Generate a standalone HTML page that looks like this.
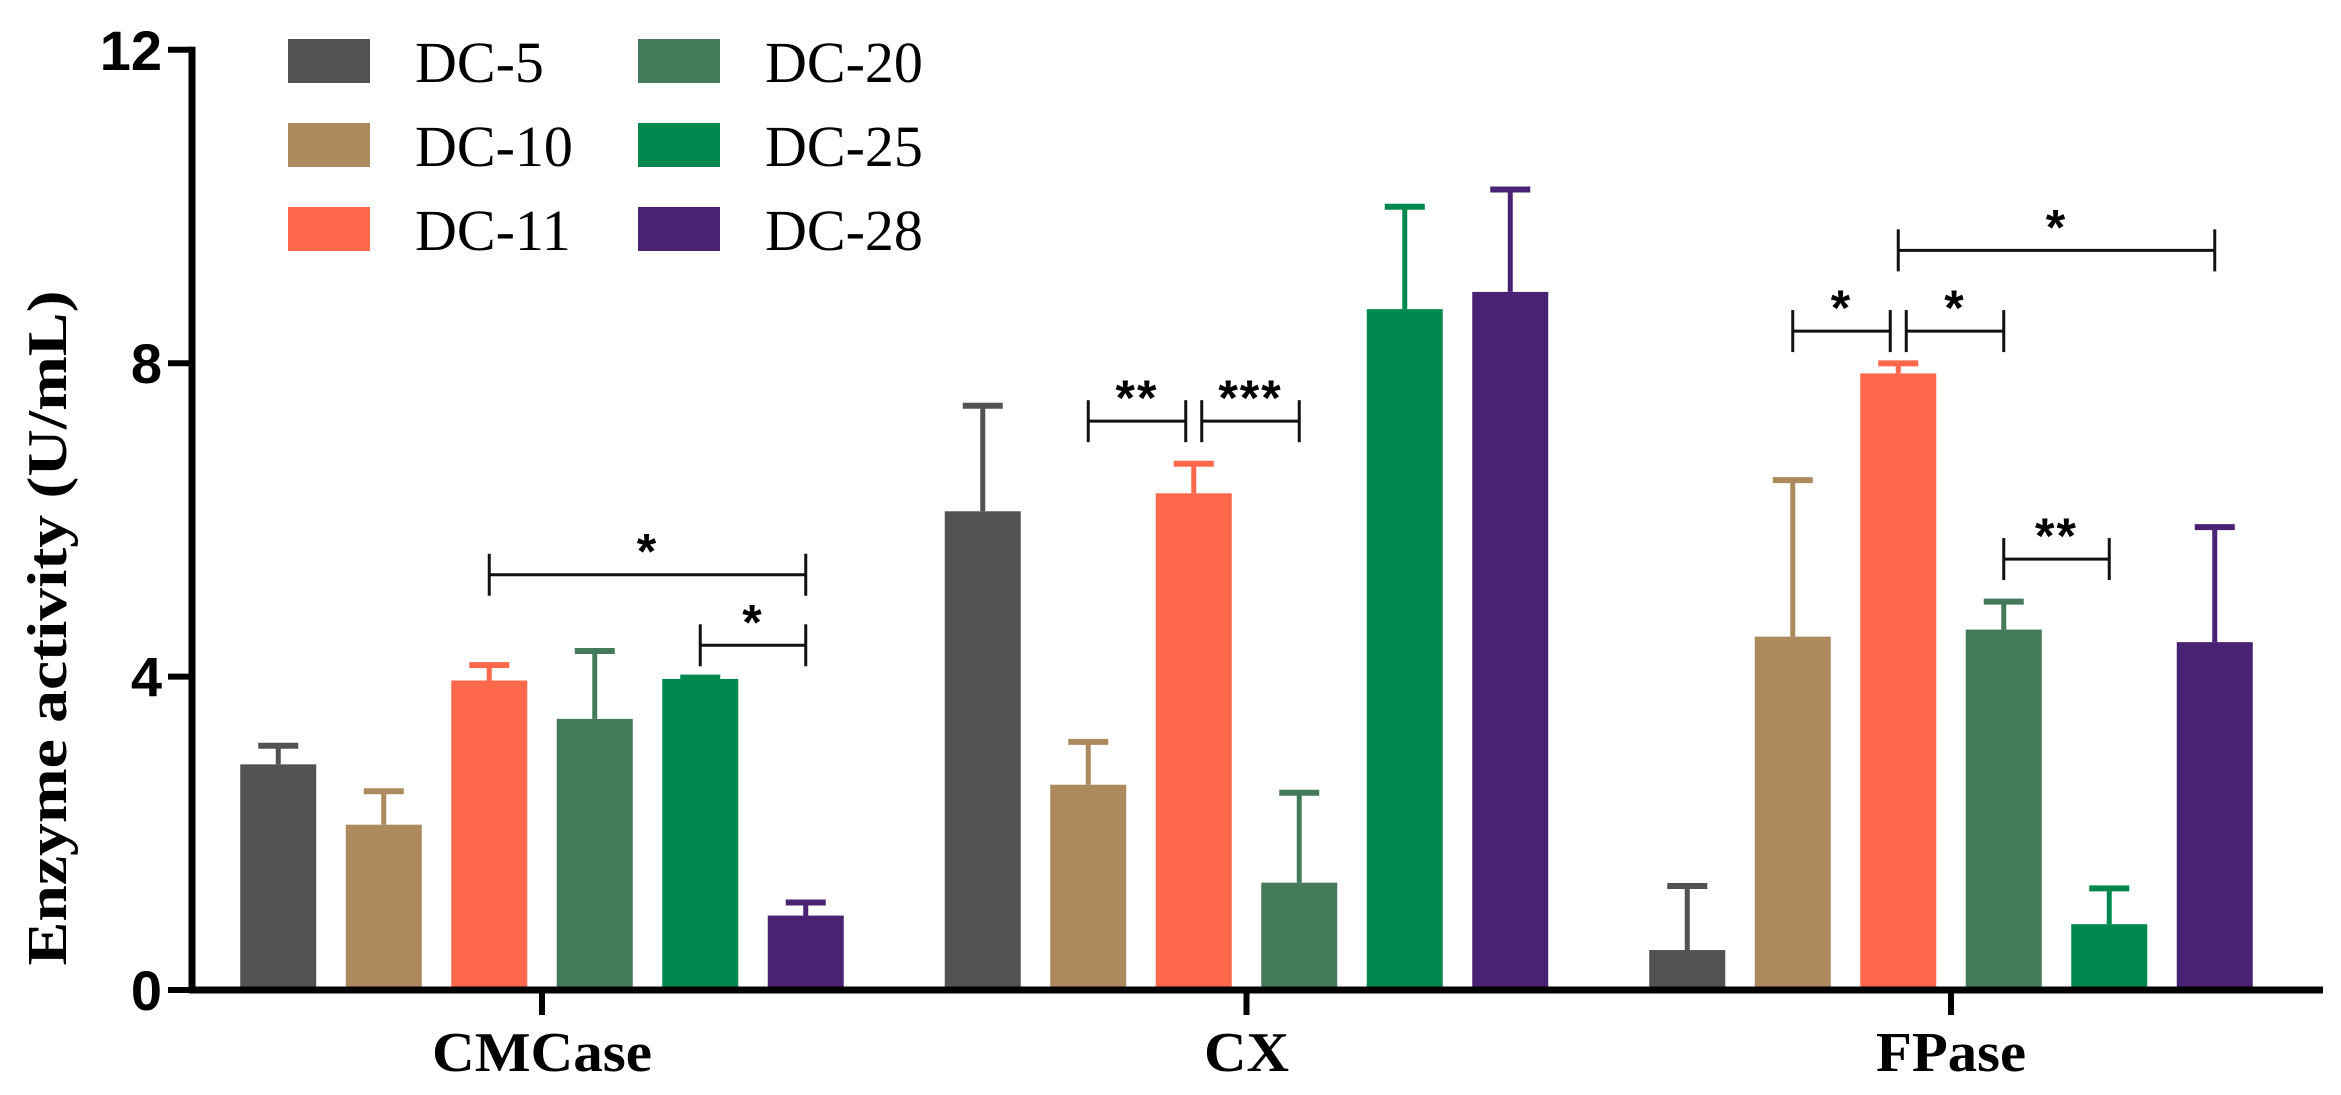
<!DOCTYPE html>
<html><head><meta charset="utf-8"><style>
html,body{margin:0;padding:0;background:#fff;}
svg{display:block;}
</style></head><body>
<svg id="chart" width="2341" height="1095" viewBox="0 0 2341 1095" xmlns="http://www.w3.org/2000/svg">
<rect width="2341" height="1095" fill="#fff"/>
<g id="bars"></g>
<g id="axes"></g>
<g id="brackets"></g>
<g id="legend"></g>
</svg>
<script>
const categories = ["CMCase","CX","FPase"];
const seriesNames = ["DC-5","DC-10","DC-11","DC-20","DC-25","DC-28"];
const colors = ["#525252","#AD8A5E","#FF684B","#437A5A","#00884F","#492274"];
const dc5  = [2.88, 6.11, 0.51];
const dc10 = [2.11, 2.62, 4.51];
const dc11 = [3.95, 6.34, 7.87];
const dc20 = [3.46, 1.37, 4.60];
const dc25 = [3.97, 8.69, 0.84];
const dc28 = [0.95, 8.91, 4.44];
const err5  = [0.25, 1.36, 0.83];
const err10 = [0.44, 0.56, 2.01];
const err11 = [0.21, 0.39, 0.14];
const err20 = [0.88, 1.16, 0.37];
const err25 = [0.03, 1.32, 0.47];
const err28 = [0.18, 1.32, 1.48];
const yTicks = [0, 4, 8, 12];
// significance brackets: [category, fromSeries, toSeries, value level, label]
const sigCat   = [0, 0, 1, 1, 2, 2, 2, 2];
const sigFrom  = [2, 4, 1, 2, 1, 2, 2, 3];
const sigTo    = [5, 5, 2, 3, 2, 3, 5, 4];
const sigLevel = [5.3, 4.4, 7.26, 7.26, 8.41, 8.41, 9.44, 5.5];
const sigLabel = ["*","*","**","***","*","*","*","**"];

const values = [dc5,dc10,dc11,dc20,dc25,dc28];
const errs = [err5,err10,err11,err20,err25,err28];
const NS="http://www.w3.org/2000/svg";
function mk(tag, attrs, parent){const e=document.createElementNS(NS,tag);for(const k in attrs)e.setAttribute(k,attrs[k]);parent.appendChild(e);return e;}
const y0=990, unit=78.35;
function yScale(v){return y0 - v*unit;}
const groupStart=542, groupStep=704.5, barStep=105.5, barW=76;
function xCenter(c,s){return groupStart + c*groupStep + (s-2.5)*barStep;}

const gb=document.getElementById('bars');
for(let s=0;s<seriesNames.length;s++){
  for(let c=0;c<categories.length;c++){
    const v=values[s][c], e=errs[s][c], xc=xCenter(c,s);
    const r=mk('rect',{x:xc-barW/2,y:yScale(v),width:barW,height:y0-yScale(v),fill:colors[s]},gb);
    
    
    const st=mk('line',{x1:xc,x2:xc,y1:yScale(v),y2:yScale(v+e),stroke:colors[s],'stroke-width':5},gb);
    
    
    const cp=mk('line',{x1:xc-20,x2:xc+20,y1:yScale(v+e)+1,y2:yScale(v+e)+1,stroke:colors[s],'stroke-width':6},gb);
    
    
  }
}

const ga=document.getElementById('axes');
const ya=mk('line',{x1:192,x2:192,y1:yScale(12)-3,y2:y0+3,stroke:'#000','stroke-width':7},ga);


const xa=mk('line',{x1:189,x2:2323,y1:y0,y2:y0,stroke:'#000','stroke-width':7},ga);


for(const t of yTicks){
  const tl=mk('line',{x1:168,x2:192,y1:yScale(t),y2:yScale(t),stroke:'#000','stroke-width':6},ga);
  
  
  const tx=mk('text',{x:162,y:yScale(t)+20,'text-anchor':'end','font-family':'Liberation Sans, sans-serif','font-weight':'bold','font-size':56},ga);
  tx.textContent=t;
  
  
}
const catW=[220,85,150];
for(let c=0;c<categories.length;c++){
  const xc=groupStart+c*groupStep;
  const tl=mk('line',{x1:xc,x2:xc,y1:y0,y2:1015,stroke:'#000','stroke-width':6},ga);
  
  
  const tx=mk('text',{x:xc,y:1071,'text-anchor':'middle','font-family':'Liberation Serif, serif','font-weight':'bold','font-size':56,textLength:catW[c],lengthAdjust:'spacingAndGlyphs'},ga);
  tx.textContent=categories[c];
  
  
}
const yl=mk('text',{x:0,y:0,transform:'translate(66,628) rotate(-90)','text-anchor':'middle','font-family':'Liberation Serif, serif','font-weight':'bold','font-size':56,textLength:675,lengthAdjust:'spacingAndGlyphs'},ga);
yl.textContent='Enzyme activity (U/mL)';



const gs=document.getElementById('brackets');
for(let i=0;i<sigCat.length;i++){
  let x1=xCenter(sigCat[i],sigFrom[i]), x2=xCenter(sigCat[i],sigTo[i]);
  const yy=yScale(sigLevel[i]);
  if(i===3||i===5) x1+=8;
  if(i===2||i===4) x2-=8;
  const g=mk('g',{},gs);
  
  
  mk('line',{x1:x1,x2:x2,y1:yy,y2:yy,stroke:'#111','stroke-width':3},g);
  mk('line',{x1:x1,x2:x1,y1:yy-21,y2:yy+21,stroke:'#111','stroke-width':3},g);
  mk('line',{x1:x2,x2:x2,y1:yy-21,y2:yy+21,stroke:'#111','stroke-width':3},g);
  const t=mk('text',{x:(x1+x2)/2,y:yy-6,'text-anchor':'middle','font-family':'Liberation Sans, sans-serif','font-weight':'bold','font-size':50,'letter-spacing':2},g);
  t.textContent=sigLabel[i];
  
  
}

const gl=document.getElementById('legend');
for(let s=0;s<seriesNames.length;s++){
  const col=Math.floor(s/3), row=s%3;
  const x=288+col*350, yc=61+row*84;
  const g=mk('g',{},gl);
  
  
  mk('rect',{x:x,y:yc-22,width:82,height:44,fill:colors[s]},g);
  const t=mk('text',{x:x+127,y:yc+21,'font-family':'Liberation Serif, serif','font-size':58},g);
  t.textContent=seriesNames[s];
}
</script>
</body></html>
